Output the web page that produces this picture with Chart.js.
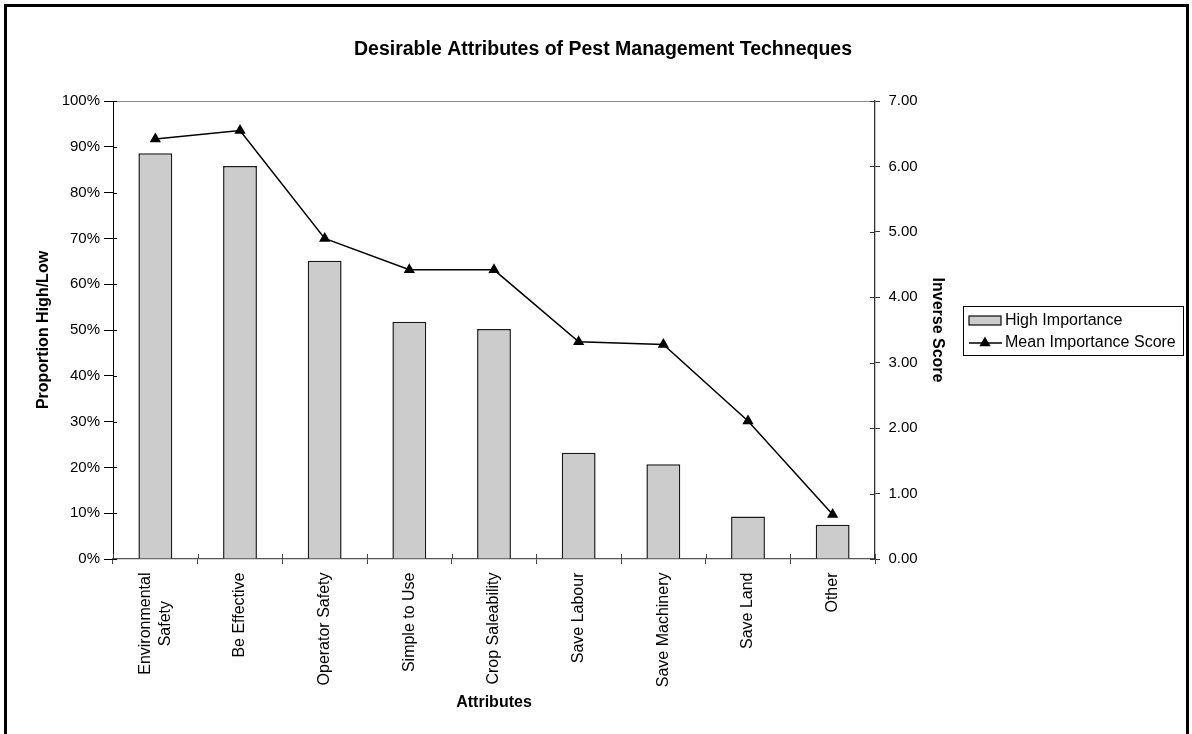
<!DOCTYPE html>
<html>
<head>
<meta charset="utf-8">
<script src="https://cdn.jsdelivr.net/npm/chart.js@4/dist/chart.umd.min.js"></script>
<style>
  html, body { margin: 0; padding: 0; background: #fff; }
  #wrap { position: relative; width: 1192px; height: 734px; overflow: hidden; }
  #frame { position: absolute; left: 4px; top: 4px; width: 1179px; height: 800px;
           border: 3px solid #000; pointer-events: none; }
  canvas { position: absolute; left: 0; top: 0; }
</style>
</head>
<body>
<div id="wrap">
  <canvas id="grafico" width="1192" height="734"></canvas>
  <div id="frame"></div>
</div>
<script>
// dados
const categorias = [["Environmental", "Safety"], "Be Effective", "Operator Safety", "Simple to Use",
  "Crop Saleability", "Save Labour", "Save Machinery", "Save Land", "Other"];
const highImportance = [88.6, 85.8, 65.1, 51.8, 50.2, 23.2, 20.7, 9.3, 7.5];
const meanScore = [6.42, 6.55, 4.90, 4.42, 4.42, 3.32, 3.28, 2.11, 0.68];
const ticksEsquerda = ['0%', '10%', '20%', '30%', '40%', '50%', '60%', '70%', '80%', '90%', '100%'];
const ticksDireita = ['0.00', '1.00', '2.00', '3.00', '4.00', '5.00', '6.00', '7.00'];

const fonte = "'Liberation Sans', Arial, sans-serif";
const alturaLinhaX = 20;

// rótulos de várias linhas no eixo x: centraliza no tick e alinha as linhas pelo centro
const centralizaRotulos = {
  id: 'centralizaRotulos',
  beforeDraw(chart) {
    const itens = chart.scales.x.getLabelItems();
    const novos = [];
    itens.forEach(it => {
      if (!Array.isArray(it.label)) {
        novos.push(it);
        return;
      }
      const linhas = it.label;
      const c = chart.ctx;
      c.save();
      c.font = it.font.string;
      const larguras = linhas.map(l => c.measureText(l).width);
      c.restore();
      const maior = Math.max(...larguras);
      const [x0, y0] = it.options.translation;
      linhas.forEach((l, i) => {
        novos.push({
          ...it,
          label: l,
          options: {
            ...it.options,
            translation: [x0 - (linhas.length - 1) * alturaLinhaX / 2 + i * alturaLinhaX,
                          y0 + (maior - larguras[i]) / 2]
          }
        });
      });
    });
    itens.length = 0;
    novos.forEach(n => itens.push(n));
  }
};

// linha cinza no topo da área do gráfico + marcas de escala para dentro
const bordasPlugin = {
  id: 'bordas',
  afterDraw(chart) {
    const { ctx, chartArea: a, scales } = chart;
    ctx.save();
    ctx.lineWidth = 1;
    ctx.strokeStyle = '#888';
    ctx.beginPath();
    ctx.moveTo(a.left, a.top + 0.5);
    ctx.lineTo(a.right, a.top + 0.5);
    ctx.stroke();

    ctx.strokeStyle = '#000';
    ctx.beginPath();
    scales.y.ticks.forEach((t, i) => {
      const y = Math.round(scales.y.getPixelForTick(i)) + 0.5;
      ctx.moveTo(a.left, y);
      ctx.lineTo(a.left + 4, y);
    });
    ctx.stroke();

    ctx.strokeStyle = '#333';
    ctx.beginPath();
    scales.y1.ticks.forEach((t, i) => {
      const y = Math.round(scales.y1.getPixelForTick(i)) + 0.5;
      ctx.moveTo(a.right - 5, y);
      ctx.lineTo(a.right, y);
    });
    ctx.stroke();

    ctx.strokeStyle = '#444';
    ctx.beginPath();
    const n = categorias.length;
    for (let i = 0; i <= n; i++) {
      const x = Math.round(a.left + i * (a.right - a.left) / n) + 0.5;
      ctx.moveTo(x, a.bottom - 5);
      ctx.lineTo(x, a.bottom);
    }
    ctx.stroke();
    ctx.restore();
  }
};

// legenda com caixa, à direita
const legendaPlugin = {
  id: 'legendaCaixa',
  afterDraw(chart) {
    const { ctx, chartArea: a } = chart;
    const ds = chart.data.datasets;
    const left = a.right + 88;
    const w = 220, h = 49;
    const top = Math.round((a.top + a.bottom) / 2 - h / 2);
    ctx.save();
    ctx.strokeStyle = '#000';
    ctx.lineWidth = 1;
    ctx.strokeRect(left + 0.5, top + 0.5, w, h);

    const barra = ds.find(d => d.type === 'bar');
    const linha = ds.find(d => d.type === 'line');
    const y1 = top + 14, y2 = top + 37;

    ctx.fillStyle = barra.backgroundColor;
    ctx.fillRect(left + 6, y1 - 4, 32, 9);
    ctx.strokeStyle = barra.borderColor;
    ctx.lineWidth = 1.3;
    ctx.strokeRect(left + 6, y1 - 4, 32, 9);

    ctx.strokeStyle = linha.borderColor;
    ctx.lineWidth = linha.borderWidth;
    ctx.beginPath();
    ctx.moveTo(left + 6, y2);
    ctx.lineTo(left + 39, y2);
    ctx.stroke();
    Chart.helpers.drawPoint(ctx, { pointStyle: 'triangle', radius: linha.pointRadius, borderWidth: 1, rotation: 0 },
      left + 22, y2);
    ctx.fillStyle = '#000';
    ctx.fill();

    ctx.fillStyle = '#000';
    ctx.font = `16px ${fonte}`;
    ctx.textBaseline = 'middle';
    ctx.textAlign = 'left';
    ctx.fillText(barra.label, left + 42, y1 + 1);
    ctx.fillText(linha.label, left + 42, y2);
    ctx.restore();
  }
};

const ctx = document.getElementById('grafico').getContext('2d');

new Chart(ctx, {
  data: {
    labels: categorias,
    datasets: [{
      type: 'line',
      label: 'Mean Importance Score',
      data: meanScore,
      yAxisID: 'y1',
      borderColor: '#000',
      backgroundColor: '#000',
      borderWidth: 1.5,
      pointStyle: 'triangle',
      pointRadius: 5,
      pointBackgroundColor: '#000',
      pointBorderColor: '#000',
      tension: 0,
      order: 0
    },
    {
      type: 'bar',
      label: 'High Importance',
      data: highImportance,
      yAxisID: 'y',
      backgroundColor: '#cccccc',
      borderColor: '#1a1a1a',
      borderWidth: 1.5,
      barPercentage: 0.4,
      categoryPercentage: 1,
      order: 1
    }]
  },
  options: {
    responsive: false,
    animation: false,
    events: [],
    layout: { padding: { left: 14, top: 0, bottom: 0, right: 0 } },
    plugins: {
      legend: { display: false },
      tooltip: { enabled: false },
      title: {
        display: true,
        text: 'Desirable Attributes of Pest Management Techneques',
        color: '#000',
        font: { family: fonte, size: 19.5, weight: 'bold' },
        padding: { top: 37.5, bottom: 40.1 }
      }
    },
    scales: {
      x: {
        offset: true,
        grid: { offset: true, drawOnChartArea: false, tickLength: 5, color: '#444' },
        border: { color: '#555', width: 1.3 },
        ticks: {
          color: '#000', font: { family: fonte, size: 16, lineHeight: alturaLinhaX / 16 },
          maxRotation: 90, minRotation: 90, padding: 8.5, autoSkip: false
        },
        title: {
          display: true, text: 'Attributes', color: '#000',
          font: { family: fonte, size: 16, weight: 'bold' },
          padding: { top: 0, bottom: 21.4 }
        },
        afterFit: s => { s.height = 175; }
      },
      y: {
        position: 'left',
        min: 0, max: 100,
        ticks: {
          stepSize: 10, color: '#000', padding: 4,
          font: { family: fonte, size: 15 },
          callback: (v, i) => ticksEsquerda[i]
        },
        grid: { drawOnChartArea: false, tickLength: 9, color: '#000' },
        border: { color: '#000', width: 1 },
        title: {
          display: true, text: 'Proportion High/Low', color: '#000',
          font: { family: fonte, size: 16, weight: 'bold' },
          padding: { top: 20, bottom: 0 }
        },
        afterFit: s => { s.width = 99; }
      },
      y1: {
        position: 'right',
        min: 0, max: 7,
        ticks: {
          stepSize: 1, color: '#000', padding: 8.5,
          font: { family: fonte, size: 15 },
          callback: (v, i) => ticksDireita[i]
        },
        grid: { drawOnChartArea: false, tickLength: 5, color: '#333' },
        border: { color: '#333', width: 1.3 },
        title: {
          display: true, text: 'Inverse Score', color: '#000',
          font: { family: fonte, size: 16, weight: 'bold' },
          padding: { top: 245.4, bottom: 0 }
        },
        afterFit: s => { s.width = 317; }
      }
    }
  },
  plugins: [centralizaRotulos, bordasPlugin, legendaPlugin]
});
</script>
</body>
</html>
